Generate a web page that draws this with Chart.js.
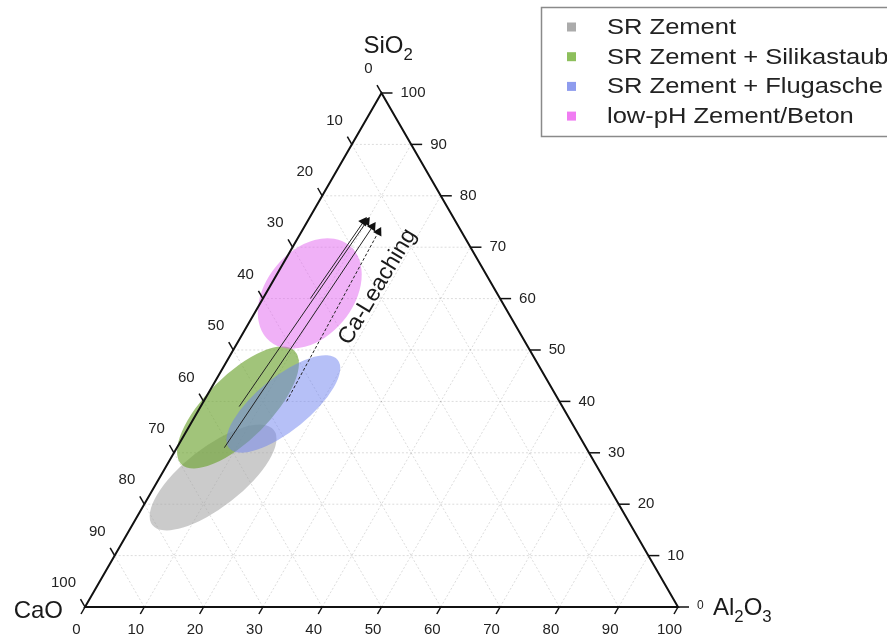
<!DOCTYPE html>
<html>
<head>
<meta charset="utf-8">
<script src="https://cdn.jsdelivr.net/npm/chart.js@4"></script>
<style>
  html, body { margin: 0; padding: 0; background: #fff; }
  #chart { display: block; }
</style>
</head>
<body>
<canvas id="chart" width="887" height="636"></canvas>
<script>
const tickValues = [0, 10, 20, 30, 40, 50, 60, 70, 80, 90, 100];

const groupNames = ['SR Zement', 'SR Zement + Silikastaub', 'SR Zement + Flugasche', 'low-pH Zement/Beton'];
const groupCaO   = [65.8, 54.8, 46.8, 31.6];
const groupSiO2  = [25.2, 38.8, 39.5, 61.0];
const groupAl2O3 = [9.0, 6.4, 13.7, 7.4];
const groupSpreadLong  = [13.0, 13.5, 11.8, 10.5];
const groupSpreadShort = [5.0, 5.4, 4.5, 7.3];
const groupTilt = [38, 45, 39, 50];

const leachFromCaO   = [32, 54.5, 61, 46];
const leachFromSiO2  = [60, 39, 31, 40];
const leachFromAl2O3 = [8, 6.5, 8, 14];
const leachToCaO     = [15.5, 15, 14.5, 14];
const leachToSiO2    = [75, 75, 74, 73];
const leachToAl2O3   = [9.5, 10, 11.5, 13];
const leachLabel = 'Ca-Leaching';

const fillColors   = ['rgba(160,160,160,0.55)', 'rgba(110,165,50,0.65)', 'rgba(110,130,240,0.5)', 'rgba(225,100,240,0.5)'];
const markerColors = ['#ababab', '#8dbf5c', '#8e9cee', '#f07cf2'];

const H = Math.sqrt(3) / 2;
const FONT = '"Liberation Sans", Arial, sans-serif';

// ternary (CaO, SiO2, Al2O3) -> cartesian data units, side = 100
function tern(cao, sio2, al2o3) {
    const sum = cao + sio2 + al2o3;
    const s = sio2 / sum * 100;
    const a = al2o3 / sum * 100;
    return { x: a + s / 2, y: s * H };
}

// chemical formula with digits as subscripts
function drawChem(ctx, label, x, y, size, align) {
    const parts = label.match(/[A-Za-z]+|\d+/g);
    const sub = size * 0.7;
    let w = 0;
    parts.forEach(p => {
        ctx.font = (/\d/.test(p) ? sub : size) + 'px ' + FONT;
        w += ctx.measureText(p).width;
    });
    let cx = align === 'right' ? x - w : align === 'center' ? x - w / 2 : x;
    ctx.textAlign = 'left';
    ctx.textBaseline = 'alphabetic';
    parts.forEach(p => {
        const isSub = /\d/.test(p);
        ctx.font = (isSub ? sub : size) + 'px ' + FONT;
        ctx.fillText(p, cx, isSub ? y + size * 0.28 : y);
        cx += ctx.measureText(p).width;
    });
}

const arrowSets = leachFromCaO.map((c, i) => {
    const p0 = tern(c, leachFromSiO2[i], leachFromAl2O3[i]);
    const p1 = tern(leachToCaO[i], leachToSiO2[i], leachToAl2O3[i]);
    const rot = Math.atan2(p1.x - p0.x, p1.y - p0.y) * 180 / Math.PI;
    return {
        data: [p0, p1],
        showLine: true,
        borderColor: '#222',
        borderWidth: 1,
        borderDash: i === 3 ? [3, 2] : [],
        pointRadius: [0, 5.5],
        pointStyle: 'triangle',
        pointRotation: [0, rot],
        pointBackgroundColor: '#111',
        pointBorderColor: '#111',
        pointBorderWidth: 0,
        clip: false
    };
});

const ternaryPlugin = {
    id: 'ternary',
    beforeDatasetsDraw(chart) {
        const ctx = chart.ctx;
        const xs = chart.scales.x, ys = chart.scales.y;
        const px = p => ({ x: xs.getPixelForValue(p.x), y: ys.getPixelForValue(p.y) });

        // grid
        ctx.save();
        ctx.strokeStyle = 'rgba(0,0,0,0.14)';
        ctx.lineWidth = 1;
        ctx.setLineDash([2, 2]);
        for (let k = 10; k < 100; k += 10) {
            const pairs = [
                [tern(100 - k, k, 0), tern(0, k, 100 - k)],
                [tern(100 - k, 0, k), tern(0, 100 - k, k)],
                [tern(k, 0, 100 - k), tern(k, 100 - k, 0)]
            ];
            pairs.forEach(pr => {
                const a = px(pr[0]), b = px(pr[1]);
                ctx.beginPath();
                ctx.moveTo(a.x, a.y);
                ctx.lineTo(b.x, b.y);
                ctx.stroke();
            });
        }
        ctx.restore();

        // regions
        const unit = xs.getPixelForValue(1) - xs.getPixelForValue(0);
        ctx.save();
        groupNames.forEach((n, i) => {
            const c = px(tern(groupCaO[i], groupSiO2[i], groupAl2O3[i]));
            ctx.beginPath();
            ctx.ellipse(c.x, c.y, groupSpreadLong[i] * unit, groupSpreadShort[i] * unit,
                -groupTilt[i] * Math.PI / 180, 0, Math.PI * 2);
            ctx.fillStyle = fillColors[i];
            ctx.fill();
        });
        ctx.restore();
    },
    afterDatasetsDraw(chart) {
        const ctx = chart.ctx;
        const xs = chart.scales.x, ys = chart.scales.y;
        const px = p => ({ x: xs.getPixelForValue(p.x), y: ys.getPixelForValue(p.y) });
        const A = px(tern(100, 0, 0)), B = px(tern(0, 0, 100)), C = px(tern(0, 100, 0));

        ctx.save();
        ctx.strokeStyle = '#111';
        ctx.fillStyle = '#222';
        ctx.lineWidth = 2;
        ctx.beginPath();
        ctx.moveTo(A.x, A.y);
        ctx.lineTo(B.x, B.y);
        ctx.lineTo(C.x, C.y);
        ctx.closePath();
        ctx.stroke();

        ctx.lineWidth = 1.5;
        ctx.font = '15px ' + FONT;
        tickValues.forEach(v => {
            // bottom: Al2O3
            let p = px(tern(100 - v, 0, v));
            ctx.beginPath();
            ctx.moveTo(p.x, p.y);
            ctx.lineTo(p.x - 4, p.y + 7);
            ctx.stroke();
            ctx.textAlign = 'center';
            ctx.textBaseline = 'middle';
            ctx.fillText(String(v), p.x - 8.5, p.y + 23);

            // left: CaO
            p = px(tern(v, 100 - v, 0));
            ctx.beginPath();
            ctx.moveTo(p.x, p.y);
            ctx.lineTo(p.x - 4.5, p.y - 7.8);
            ctx.stroke();
            ctx.textAlign = 'right';
            ctx.fillText(String(v), p.x - 9, p.y - 24);

            // right: SiO2
            p = px(tern(0, v, 100 - v));
            ctx.beginPath();
            ctx.moveTo(p.x, p.y);
            ctx.lineTo(p.x + 11, p.y);
            ctx.stroke();
            ctx.textAlign = 'left';
            if (v === 0) {
                ctx.font = '12px ' + FONT;
                ctx.fillText('0', p.x + 19, p.y - 1);
                ctx.font = '15px ' + FONT;
            } else {
                ctx.fillText(String(v), p.x + 19, p.y);
            }
        });

        // axis titles
        ctx.fillStyle = '#1a1a1a';
        drawChem(ctx, 'SiO2', C.x - 18, C.y - 40, 24, 'left');
        drawChem(ctx, 'CaO', A.x - 22, A.y + 11, 24, 'right');
        drawChem(ctx, 'Al2O3', B.x + 35, B.y + 8, 24, 'left');

        // Ca-Leaching label
        const lp = px(tern(19.5, 62.3, 18.2));
        ctx.save();
        ctx.translate(lp.x, lp.y);
        ctx.rotate(-59 * Math.PI / 180);
        ctx.font = '23px ' + FONT;
        ctx.textAlign = 'center';
        ctx.textBaseline = 'middle';
        ctx.fillText(leachLabel, 0, 0);
        ctx.restore();

        // legend
        ctx.strokeStyle = '#8a8a8a';
        ctx.lineWidth = 1.5;
        ctx.strokeRect(541.5, 7.5, 420, 129);
        ctx.textAlign = 'left';
        ctx.textBaseline = 'alphabetic';
        groupNames.forEach((n, i) => {
            const by = 34 + i * 29.7;
            ctx.fillStyle = markerColors[i];
            ctx.fillRect(567, by - 11.5, 9, 9);
            ctx.fillStyle = '#222';
            ctx.save();
            ctx.translate(607, by);
            ctx.scale(1.16, 1);
            ctx.font = '22px ' + FONT;
            ctx.fillText(n, 0, 0);
            ctx.restore();
        });
        ctx.restore();
    }
};

new Chart(document.getElementById('chart'), {
    type: 'scatter',
    data: { datasets: arrowSets },
    options: {
        responsive: false,
        animation: false,
        devicePixelRatio: 1,
        layout: { padding: { left: 85, right: 209, top: 93, bottom: 29 } },
        scales: {
            x: { type: 'linear', min: 0, max: 100, display: false },
            y: { type: 'linear', min: 0, max: 100 * H, display: false }
        },
        plugins: { legend: { display: false }, tooltip: { enabled: false } }
    },
    plugins: [ternaryPlugin]
});
</script>
</body>
</html>
